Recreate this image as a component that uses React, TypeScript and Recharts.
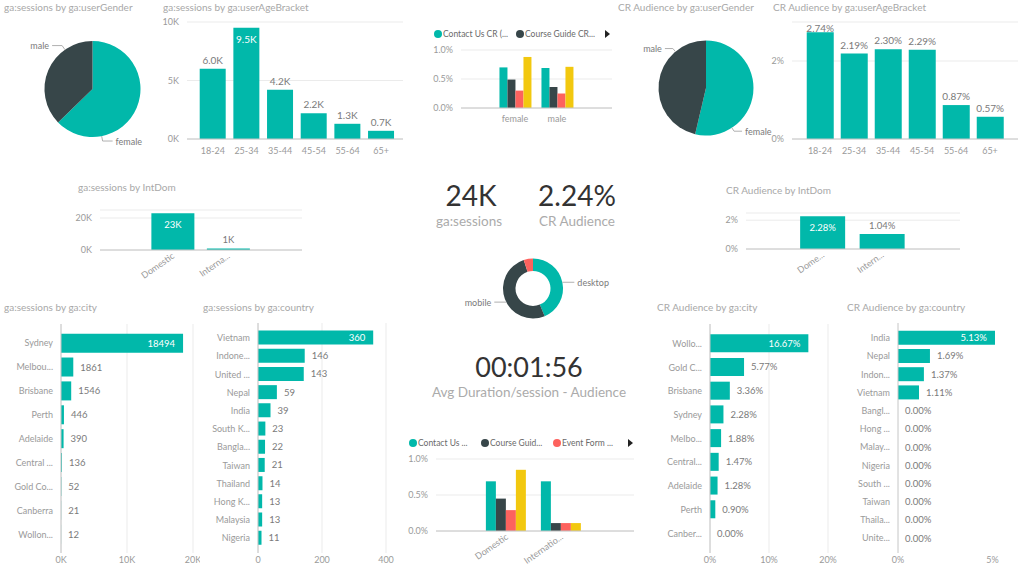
import React from 'react'
import { BarChart, Bar, XAxis, YAxis, CartesianGrid, ReferenceLine, PieChart, Pie, Cell } from 'recharts'

const TEAL = '#01B8AA'
const DARK = '#374649'
const RED = '#FD625E'
const YELLOW = '#F2C80F'
const GRID = '#ebebeb'
const AXIS = '#c6c6c6'
const TICK = '#9a9a9a'
const LABEL = '#7a7a7a'
const TITLE = '#a8a8a8'
const FONT = "'Segoe UI', Lato, sans-serif"
const SERIES_COLORS = [TEAL, DARK, RED, YELLOW]

// ---- data ----
const genders = ['female', 'male']
const genderSessions = [14950, 8880]
const genderCR = [2.41, 2.08]

const ageBrackets = ['18-24', '25-34', '35-44', '45-54', '55-64', '65+']
const ageSessions = [6000, 9500, 4200, 2200, 1300, 700]
const ageCR = [2.74, 2.19, 2.3, 2.29, 0.87, 0.57]

const seriesNames = ['Contact Us CR (Audience)', 'Course Guide CR (Audience)', 'Event Form CR (Audience)', 'Enquiry CR (Audience)']
const genderContact = [0.7, 0.69]
const genderCourse = [0.49, 0.36]
const genderEvent = [0.3, 0.25]
const genderEnquiry = [0.88, 0.71]

const intDomSessTicks = ['Domestic', 'Interna...']
const intDomCRTicks = ['Dome...', 'Intern...']
const intDomClusterTicks = ['Domestic', 'Internatio...']
const intDomSessions = [23000, 1000]
const intDomCR = [2.28, 1.04]
const intDomContact = [0.69, 0.69]
const intDomCourse = [0.45, 0.11]
const intDomEvent = [0.29, 0.11]
const intDomEnquiry = [0.85, 0.11]

const devices = ['desktop', 'mobile', 'tablet']
const deviceSessions = [10450, 12300, 1200]

const cities = ['Sydney', 'Melbou...', 'Brisbane', 'Perth', 'Adelaide', 'Central ...', 'Gold Co...', 'Canberra', 'Wollon...']
const citySessions = [18494, 1861, 1546, 446, 390, 136, 52, 21, 12]
const countries = ['Vietnam', 'Indone...', 'United ...', 'Nepal', 'India', 'South K...', 'Bangla...', 'Taiwan', 'Thailand', 'Hong K...', 'Malaysia', 'Nigeria']
const countrySessions = [360, 146, 143, 59, 39, 23, 22, 21, 14, 13, 13, 11]
const crCities = ['Wollo...', 'Gold C...', 'Brisbane', 'Sydney', 'Melbo...', 'Central...', 'Adelaide', 'Perth', 'Canber...']
const cityCR = [16.67, 5.77, 3.36, 2.28, 1.88, 1.47, 1.28, 0.9, 0]
const crCountries = ['India', 'Nepal', 'Indon...', 'Vietnam', 'Bangl...', 'Hong ...', 'Malay...', 'Nigeria', 'South ...', 'Taiwan', 'Thaila...', 'Unite...']
const countryCR = [5.13, 1.69, 1.37, 1.11, 0, 0, 0, 0, 0, 0, 0, 0]

const fmtK = (v: number) => `${v / 1000}K`
const pct = (v: number) => `${v}%`
const pct1 = (v: number) => `${v.toFixed(1)}%`
const pct2 = (v: number) => `${v.toFixed(2)}%`

const Title = ({ x, y, text }: { x: number; y: number; text: string }) => (
  <div style={{ position: 'absolute', left: x, top: y, fontSize: 10, color: TITLE, whiteSpace: 'nowrap', lineHeight: '12px' }}>{text}</div>
)

const RotTick = (p: any) => {
  const { x, y, payload } = p
  return (
    <text x={x} y={y} dy={4} transform={`rotate(-35 ${x} ${y})`} textAnchor="end" fill={TICK} fontSize={9}>
      {payload.value}
    </text>
  )
}

// plain category tick, no wrapping
const CatTick = (p: any) => (
  <text x={p.x} y={p.y} textAnchor="end" dominantBaseline="central" fill={TICK} fontSize={9}>
    {p.payload.value}
  </text>
)

type ColProps = {
  left: number; top: number; width: number; height: number
  mTop: number; mRight: number; mBottom?: number; yWidth: number; xHeight: number
  labels: string[]; values: number[]
  domain: [number, number]; ticks: number[]
  tickFmt: (v: number) => string; valFmt: (v: number) => string
  padL: number; padR: number; gap: string
  rotate?: boolean; labelSize: number
}

function ColumnChart(p: ColProps) {
  const data = p.labels.map((name, i) => ({ name, value: p.values[i] }))
  const label = (lp: any) => {
    const { x, y, width, value } = lp
    const inside = y - p.mTop < 8
    const ty = inside ? y + 11 : Math.max(y - 9, p.mTop + 6)
    return (
      <text x={x + width / 2} y={ty} textAnchor="middle" dominantBaseline="central" fill={inside ? '#fff' : LABEL} fontSize={p.labelSize}>
        {p.valFmt(value)}
      </text>
    )
  }
  const mb = p.mBottom ?? 0
  return (
    <div style={{ position: 'absolute', left: p.left, top: p.top }}>
      <BarChart width={p.width} height={p.height + mb} data={data} margin={{ top: p.mTop, right: p.mRight, left: 0, bottom: mb }} barCategoryGap={p.gap}>
        <CartesianGrid vertical={false} stroke={GRID} />
        <XAxis
          dataKey="name"
          axisLine={false}
          tickLine={false}
          interval={0}
          height={p.xHeight}
          padding={{ left: p.padL, right: p.padR }}
          tickSize={p.rotate ? 2 : 0}
          tickMargin={p.rotate ? 2 : 9}
          tick={p.rotate ? <RotTick /> : { fill: TICK, fontSize: 9 }}
        />
        <YAxis width={p.yWidth} domain={p.domain} ticks={p.ticks} interval={0} axisLine={false} tickLine={false} tickFormatter={p.tickFmt} tick={{ fill: TICK, fontSize: 9 }} />
        <ReferenceLine y={0} stroke={AXIS} />
        <Bar dataKey="value" fill={TEAL} isAnimationActive={false} label={label} />
      </BarChart>
    </div>
  )
}

type HProps = {
  left: number; top: number; width: number; height: number
  mTop: number; mRight: number; yWidth: number
  labels: string[]; values: number[]
  domain: [number, number]; ticks: number[]
  tickFmt: (v: number) => string; valFmt: (v: number) => string
  padT: number; padB: number; gap: string; grid?: boolean
}

function HBarChart(p: HProps) {
  const data = p.labels.map((name, i) => ({ name, value: p.values[i] }))
  const plotRight = p.width - p.mRight
  const label = (lp: any) => {
    const { x, y, width, height, value } = lp
    const txt = p.valFmt(value)
    const end = x + width
    const inside = end + 8 + txt.length * 5 > plotRight
    return (
      <text x={inside ? end - 8 : end + 7} y={y + height / 2} textAnchor={inside ? 'end' : 'start'} dominantBaseline="central" fill={inside ? '#fff' : LABEL} fontSize={9.5}>
        {txt}
      </text>
    )
  }
  return (
    <div style={{ position: 'absolute', left: p.left, top: p.top }}>
      <BarChart layout="vertical" width={p.width} height={p.height} data={data} margin={{ top: p.mTop, right: p.mRight, left: 0, bottom: 0 }} barCategoryGap={p.gap}>
        {p.grid !== false && <CartesianGrid horizontal={false} stroke={GRID} />}
        <XAxis type="number" domain={p.domain} ticks={p.ticks} interval={0} axisLine={false} tickLine={false} tickSize={0} tickMargin={4} height={19} tickFormatter={p.tickFmt} tick={{ fill: TICK, fontSize: 9 }} />
        <YAxis type="category" dataKey="name" width={p.yWidth} axisLine={false} tickLine={false} interval={0} padding={{ top: p.padT, bottom: p.padB }} tick={<CatTick />} />
        <ReferenceLine x={0} stroke={AXIS} />
        {/* tiny min size so zero values still get their 0.00% label */}
        <Bar dataKey="value" fill={TEAL} isAnimationActive={false} label={label} minPointSize={(v: number) => (v === 0 ? 0.01 : 0)} />
      </BarChart>
    </div>
  )
}

type LegendProps = { left: number; top: number; itemWidth: number; maxChars: number; count: number; arrowX: number }

function ClusterLegend(p: LegendProps) {
  return (
    <div style={{ position: 'absolute', left: p.left, top: p.top - 6, height: 12, width: 240 }}>
      {seriesNames.slice(0, p.count).map((n, i) => (
        <div key={n} style={{ position: 'absolute', left: i * p.itemWidth, top: 0, display: 'flex', alignItems: 'center', height: 12 }}>
          <span style={{ width: 8, height: 8, borderRadius: 4, background: SERIES_COLORS[i], display: 'inline-block', marginRight: 1 }} />
          <span style={{ fontSize: 8.5, color: '#6a6a6a', whiteSpace: 'nowrap' }}>{n.length > p.maxChars ? n.slice(0, p.maxChars) + '...' : n}</span>
        </div>
      ))}
      <span style={{ position: 'absolute', left: p.arrowX - p.left, top: 2, width: 0, height: 0, borderTop: '4px solid transparent', borderBottom: '4px solid transparent', borderLeft: '5px solid #222' }} />
    </div>
  )
}

type ClusterProps = {
  left: number; top: number; width: number; height: number
  mTop: number; mRight: number; yWidth: number; xHeight: number
  labels: string[]; series: number[][]
  padL: number; padR: number; gap: string; rotate?: boolean
}

function ClusterChart(p: ClusterProps) {
  const data = p.labels.map((name, i) => {
    const row: any = { name }
    p.series.forEach((s, k) => (row['s' + k] = s[i]))
    return row
  })
  return (
    <div style={{ position: 'absolute', left: p.left, top: p.top }}>
      <BarChart width={p.width} height={p.height} data={data} margin={{ top: p.mTop, right: p.mRight, left: 0, bottom: 0 }} barCategoryGap={p.gap} barGap={0}>
        <CartesianGrid vertical={false} stroke={GRID} />
        <XAxis
          dataKey="name"
          axisLine={false}
          tickLine={false}
          interval={0}
          height={p.xHeight}
          padding={{ left: p.padL, right: p.padR }}
          tickSize={p.rotate ? 2 : 0}
          tickMargin={p.rotate ? 2 : 8}
          tick={p.rotate ? <RotTick /> : { fill: TICK, fontSize: 9 }}
        />
        <YAxis width={p.yWidth} domain={[0, 1]} ticks={[0, 0.5, 1]} interval={0} axisLine={false} tickLine={false} tickFormatter={pct1} tick={{ fill: TICK, fontSize: 9 }} />
        <ReferenceLine y={0} stroke={AXIS} />
        {p.series.map((_, k) => (
          <Bar key={k} dataKey={'s' + k} name={seriesNames[k]} fill={SERIES_COLORS[k]} isAnimationActive={false} />
        ))}
      </BarChart>
    </div>
  )
}

type PieProps = {
  left: number; top: number; width: number; height: number
  cx: number; cy: number; outer: number; inner?: number
  names: string[]; values: number[]; colors: string[]
  angles: (number | null)[]; elbow: number; run: number
}

function LabeledPie(p: PieProps) {
  const data = p.names.map((name, i) => ({ name, value: p.values[i] }))
  const label = (lp: any) => {
    const { cx, cy, outerRadius, index } = lp
    const deg = p.angles[index]
    if (deg === null || deg === undefined) return null
    const a = (deg * Math.PI) / 180
    const px = cx + outerRadius * Math.cos(a)
    const py = cy - outerRadius * Math.sin(a)
    const ex = cx + (outerRadius + p.elbow) * Math.cos(a)
    const ey = cy - (outerRadius + p.elbow) * Math.sin(a)
    const right = Math.cos(a) >= 0
    const hx = ex + (right ? p.run : -p.run)
    return (
      <g>
        <polyline points={`${px},${py} ${ex},${ey} ${hx},${ey}`} stroke="#b0b0b0" fill="none" strokeWidth={1} />
        <text x={hx + (right ? 3 : -3)} y={ey} textAnchor={right ? 'start' : 'end'} dominantBaseline="central" fill={LABEL} fontSize={9}>
          {p.names[index]}
        </text>
      </g>
    )
  }
  return (
    <div style={{ position: 'absolute', left: p.left, top: p.top }}>
      <PieChart width={p.width} height={p.height}>
        <Pie
          data={data}
          dataKey="value"
          nameKey="name"
          cx={p.cx}
          cy={p.cy}
          outerRadius={p.outer}
          innerRadius={p.inner ?? 0}
          startAngle={90}
          endAngle={-270}
          stroke="none"
          labelLine={false}
          label={label}
          isAnimationActive={false}
        >
          {data.map((d, i) => (
            <Cell key={d.name} fill={p.colors[i]} />
          ))}
        </Pie>
      </PieChart>
    </div>
  )
}

const Kpi = ({ cx, top, value, size }: { cx: number; top: number; value: string; size: number }) => (
  <div style={{ position: 'absolute', left: cx - 120, top, width: 240, textAlign: 'center', fontSize: size, lineHeight: 1, color: '#333' }}>{value}</div>
)

const Caption = ({ cx, top, text }: { cx: number; top: number; text: string }) => (
  <div style={{ position: 'absolute', left: cx - 120, top, width: 240, textAlign: 'center', fontSize: 13.5, lineHeight: 1, color: '#ababab' }}>{text}</div>
)

export default function App() {
  return (
    <div style={{ position: 'absolute', left: 0, top: 0, width: 1024, height: 576, background: '#fff', fontFamily: FONT, overflow: 'hidden' }}>
      <Title x={4} y={1} text="ga:sessions by ga:userGender" />
      <LabeledPie left={0} top={20} width={160} height={140} cx={87.5} cy={64} outer={48} names={genders} values={genderSessions} colors={[TEAL, DARK]} angles={[-79, 125]} elbow={5} run={10} />

      <Title x={163} y={1} text="ga:sessions by ga:userAgeBracket" />
      <ColumnChart left={160} top={10} width={250} height={160} mTop={12} mRight={7} yWidth={27} xHeight={31} labels={ageBrackets} values={ageSessions} domain={[0, 10000]} ticks={[0, 5000, 10000]} tickFmt={fmtK} valFmt={v => `${(v / 1000).toFixed(1)}K`} padL={9} padR={5} gap="11%" labelSize={10} />

      <ClusterLegend left={434} top={34} itemWidth={82} maxChars={15} count={2} arrowX={605} />
      <ClusterChart left={425} top={25} width={195} height={110} mTop={25} mRight={8} yWidth={36} xHeight={27} labels={genders} series={[genderContact, genderCourse, genderEvent, genderEnquiry]} padL={33} padR={34} gap="13%" />

      <Title x={618} y={1} text="CR Audience by ga:userGender" />
      <LabeledPie left={615} top={20} width={175} height={140} cx={86} cy={63} outer={47.5} names={genders} values={genderCR} colors={[TEAL, DARK]} angles={[-57, 130]} elbow={4} run={8} />

      <Title x={773} y={1} text="CR Audience by ga:userAgeBracket" />
      <ColumnChart left={765} top={10} width={259} height={160} mTop={12} mRight={6} yWidth={27} xHeight={31} labels={ageBrackets} values={ageCR} domain={[0, 3]} ticks={[0, 2]} tickFmt={pct} valFmt={pct2} padL={11} padR={11} gap="11%" labelSize={10} />

      <Title x={78} y={181} text="ga:sessions by IntDom" />
      <ColumnChart left={70} top={200} width={240} height={75} mBottom={14} mTop={10} mRight={8} yWidth={30} xHeight={25} labels={intDomSessTicks} values={intDomSessions} domain={[0, 25000]} ticks={[0, 20000]} tickFmt={fmtK} valFmt={v => `${Math.round(v / 1000)}K`} padL={45} padR={46} gap="11.5%" rotate labelSize={9.5} />

      <Kpi cx={471} top={181} value="24K" size={28} />
      <Caption cx={469} top={215} text="ga:sessions" />
      <Kpi cx={577} top={181} value="2.24%" size={28} />
      <Caption cx={577} top={215} text="CR Audience" />

      <Title x={726} y={184} text="CR Audience by IntDom" />
      <ColumnChart left={715} top={200} width={255} height={75} mBottom={14} mTop={13} mRight={10} yWidth={31} xHeight={26} labels={intDomCRTicks} values={intDomCR} domain={[0, 2.5]} ticks={[0, 2]} tickFmt={pct} valFmt={pct2} padL={47} padR={48} gap="12%" rotate labelSize={9.5} />

      <LabeledPie left={440} top={245} width={180} height={80} cx={88} cy={38.5} outer={30} inner={17.5} names={devices} values={deviceSessions} colors={[TEAL, DARK, RED]} angles={[12, 207, null]} elbow={0} run={12} />

      <Kpi cx={529} top={353} value="00:01:56" size={27} />
      <Caption cx={529} top={386} text="Avg Duration/session - Audience" />

      <ClusterLegend left={409} top={443} itemWidth={72} maxChars={11} count={3} arrowX={628} />
      <ClusterChart left={400} top={432} width={240} height={140} mTop={27} mRight={6} yWidth={36} xHeight={41} labels={intDomClusterTicks} series={[intDomContact, intDomCourse, intDomEvent, intDomEnquiry]} padL={43} padR={45} gap="12.5%" rotate />

      <Title x={4} y={301} text="ga:sessions by ga:city" />
      <HBarChart left={0} top={318} width={200} height={254} mTop={6} mRight={7} yWidth={61} labels={cities} values={citySessions} domain={[0, 20000]} ticks={[0, 10000, 20000]} tickFmt={fmtK} valFmt={v => `${v}`} padT={7} padB={7} gap="11%" />

      <Title x={203} y={301} text="ga:sessions by ga:country" />
      <HBarChart left={195} top={318} width={205} height={254} mTop={5} mRight={14} yWidth={63} labels={countries} values={countrySessions} domain={[0, 400]} ticks={[0, 200, 400]} tickFmt={v => `${v}`} valFmt={v => `${v}`} padT={5.6} padB={6} gap="10.7%" />

      <Title x={657} y={301} text="CR Audience by ga:city" />
      <HBarChart left={640} top={318} width={200} height={254} mTop={6} mRight={12} yWidth={70} labels={crCities} values={cityCR} domain={[0, 20]} ticks={[0, 10, 20]} tickFmt={pct} valFmt={pct2} padT={7.5} padB={8} gap="11.5%" />

      <Title x={847} y={301} text="CR Audience by ga:country" />
      <HBarChart left={840} top={318} width={184} height={254} mTop={5} mRight={5} yWidth={58} labels={crCountries} values={countryCR} domain={[0, 6.4]} ticks={[0, 5]} tickFmt={pct} valFmt={pct2} padT={5.5} padB={6} gap="12.5%" grid={false} />
    </div>
  )
}
